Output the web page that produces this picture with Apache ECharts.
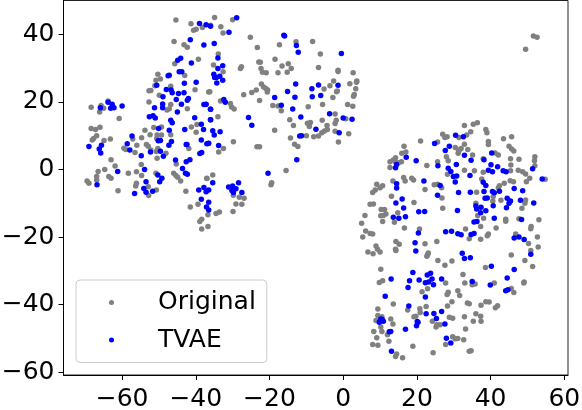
<!DOCTYPE html>
<html><head><meta charset="utf-8">
<style>html,body{margin:0;padding:0;background:#fff}#c{width:582px;height:410px}</style>
<script src="https://cdn.jsdelivr.net/npm/echarts@6/dist/echarts.min.js"></script>
</head><body><div id="c"></div>
<script>
const seriesNames = ['Original', 'TVAE'];
const xTicks = [-60,-40,-20,0,20,40,60];
const yTicks = [-60,-40,-20,0,20,40];
const original = [
[-45.4,44.2],[-41.3,43.1],[-40.6,41.2],[-39.9,41.5],[-38.2,42],[-45.9,37.9],[-43.2,36.9],[-42.3,36.2],[-39.3,32.6],[-45.7,31.3],[-50.3,28.2],[-49.6,26.8],[-50.8,26.4],[-51.1,24.8],[-43,27.8],[-46.8,24.6],[-40.2,23.6],[-52.7,23.3],[-52.2,23.4],[-36.5,22.9],[-49.9,22],[-52.7,20],[-63.8,20.3],[-65.7,18.9],[-65,18.1],[-66.1,17],[-68.4,18.4],[-60.8,15.1],[-46.8,19.2],[-47.2,18],[-47.8,17.6],[-42.3,18],[-68.4,12.1],[-67.2,11.8],[-66,12.5],[-53.8,11.6],[-51.4,12.4],[-49.3,12.6],[-41.2,12.6],[-39.7,13.3],
[-52.4,10.3],[-54.7,9.4],[-50.5,10.2],[-49.3,10.2],[-50.6,9.2],[-49.8,8.6],[-46.8,10.3],[-39.9,11],[-57.1,9],[-66.9,10],[-67.7,9.2],[-68.1,8.7],[-64.9,8.6],[-63.2,9],[-56,7.2],[-53.4,7.4],[-52.9,6.9],[-52.2,5.8],[-59.5,6.3],[-59,5.9],[-56.5,5],[-50.3,6.2],[-50.7,5.3],[-48.1,4.8],[-50.5,3.3],[-41.9,6.2],[-63,2.9],[-61.9,1],[-64.7,0],[-66.5,-0.6],[-66.9,-2.1],[-66.9,-3.1],[-63.6,-2.1],[-63,-2.6],[-69.5,-3.4],[-69,-4.1],[-61.1,-6.3],[-54.8,1.5],[-58.3,-1.1],[-56.1,-0.7],[-54.7,-1.8],[-56.1,-4.1],[-56.3,-4.9],[-50.8,-1.1],[-52.9,-5.1],[-50.7,-6.1],[-52.8,-7.7],[-45.3,1.6],[-46,-1.1],[-45.4,-1.8],[-44.9,-2.3],[-44.1,-3.4],[-42.7,-6.4],[-37,-2.6],[-39.4,-10.3],[-41.5,-11.1],[-36.7,-13.4],[-38.4,-14.7],[-38.9,-15.4],[-36.7,-16.9],[-38.4,-17.6],[-34.5,-13],[-33.6,-12.6],[-29.8,-7.6],[-28.2,-8.2],[-26.9,-8.5],[-29.1,-10.2],[-27.5,-10.3],[-29.9,-12.4],
[-34.9,45],[-30,44.3],[-33.2,42.2],[-32.6,40.4],[-36,42.7],[-25.2,39.1],[-23.3,36.1],[-17.3,36.9],[-12.8,37.8],[-8.3,37.9],[-6.2,34.2],[-18.5,32.6],[-33.9,34.2],[-22.9,31.8],[-22.5,31.7],[-22.3,29.9],[-21.9,28.8],[-20.9,28.6],[-27.9,29.9],[-27.6,30.4],[-35.2,30.9],[-32.6,28.9],[-16.6,30.6],[-14.9,31.3],[-14.1,29.9],[-17.7,28.6],[-15.2,28.8],[-6.7,30.2],[-1.4,29.4],[-1.4,29],[2.7,28.6],[-22.2,25.3],[-21.6,24.4],[-21,24],[-20.5,23.5],[-20.6,22.9],[-23.6,23.5],[-24.8,22.8],[-27,22.1],[-22.7,20.4],[-36.2,23],[-2.6,26.2],[-3.6,24.8],[-5.2,23.8],[-1.6,23.2],[-1.8,23],[-2.8,21.3],[1.8,25.4],[3.7,26.2],[3.6,25.8],[3.4,23.9],[3,22.2],[2.8,21.7],[-33.3,20.3],[-30.6,19.5],[-30.3,18.5],[-29.6,17.9],[-19.1,18.9],[-17.7,18.8],[-16.8,17.4],[-9.5,18.6],[-5.6,19.2],[1.2,19.2],[2.6,18.7],[-34,15.6],[-14.5,14.7],[-13.5,13],[-9.7,13.7],[-8.9,13.9],[-9.2,12.7],[-5.7,14.6],[-2.2,16.4],[-1.9,14.6],[-2.2,13.6],[0.7,15],[-4.4,13],[-4.3,11.8],[-5.1,11.4],[-5.8,10.9],[-6.7,9.9],[-8,9.7],[-10,10],[-2.2,11.3],[1.5,10.6],[-1.3,8.1],[-18.6,11.6],[-14.3,9.3],[-13.2,7.5],[-12.3,6.8],[-29.8,8.2],[-23.4,6.7],[-22.7,6.7],[-32.5,6.2],[-33.8,5.2],[-15.5,-0.3],[-19.4,-3.9],[-19.6,-4.5],[-35.4,-1.6],[-37,-2.7],
[21,8.4],[16.5,6.9],[27,10.4],[27.6,9.5],[28.2,9.7],[25.6,8.1],[15.9,4.8],[17,5.2],[14.2,3.5],[13.6,2.8],[12.7,2.3],[14.1,2.3],[15,2],[15.8,2.3],[12.7,0.6],[22.7,1.2],[25.6,2.3],[28,3.8],[28.5,2.6],[31.3,5.7],[30.4,6.5],[28.3,-1.4],[13.5,-3.4],[16.4,-2.4],[16.8,-3.4],[18.6,-2.6],[19.1,-3.1],[9.1,-4.4],[10.7,-4.8],[10,-5.4],[8.7,-6.1],[8,-6.8],[22.2,-5.9],[24.7,-4.5],[25.6,-4.4],[26.7,-5.4],[13.1,-7.9],[26.8,-8.4],[19.2,-9.8],[27,-11.5],[7.3,-10.3],[8.2,-10.2],[10.3,-11.8],[11.2,-11.8],[11.6,-13.2],[10.2,-13.7],[10.9,-13.6],[14.8,-12.8],[5.9,-13.6],[5,-15.9],[10.7,-15.4],[13.9,-15.6],[6.1,-18.2],[7.3,-18.9],[8,-19.1],[5.3,-20],[16.6,-17.3],[20.7,-17.6],[14.3,-21.3],[15.2,-22.1],[22.2,-22],[25.4,-21.3],[8.9,-22.6],[9.3,-23.6],[14.2,-23.6],
[32.9,13],[35.3,13.4],[36.4,13.8],[34.6,11.2],[33.5,10.2],[31.4,9.5],[38.7,11.8],[39,10.9],[45.7,9.7],[43.5,9.1],[39.4,8.3],[39.4,7.4],[32.9,7.5],[32,6.2],[33.8,5.9],[31.2,4.8],[31.4,5.5],[45,6.9],[45.7,6.1],[46.3,5.5],[41.2,4.9],[42.1,4.3],[35.1,4.3],[38,3.2],[45.4,3.2],[47.7,3],[45.5,1.3],[52,3.8],[51.9,2.6],[52,1.1],[32.9,-0.2],[35.6,-0.4],[38,-0.8],[45.4,-0.4],[47.5,-0.2],[48.7,-0.7],[49.5,-1.3],[37.6,-2.8],[50.6,-2.6],[49.7,-3.6],[54.8,-2.9],[43.7,-4.1],[42.4,-4.8],[42.1,-5.4],[45.3,-3.3],[46.2,-3.6],[36.2,-6.7],[40.7,-8],[40.6,-9.3],[42.8,-9.1],[36,-10],[49.5,-9],[49.3,-10],[48.5,-11.5],[36.5,-13.6],[38.1,-14.4],[44.1,-14.7],[44.1,-15.3],[47.7,-14.6],[53.1,-14.9],[37.3,-16.9],[41.5,-17.3],[33.2,-17.6],[51,-16.9],[50.9,-17.5],[39.4,-19.1],[39.1,-19.6],[34.2,-20.5],[37.3,-20.6],[46.8,-19.1],[52.7,-20],[50.3,-21.9],[52.9,-22.9],
[6.7,-24.4],[8.1,-24.9],[10,-24.4],[14.3,-24],[23.1,-24.7],[22.7,-25.7],[22.9,-25.2],[25.7,-26.9],[27.6,-28.3],[29.5,-27.1],[45.6,-25.3],[49.3,-26.9],[51.4,-28.7],[38.6,-29],[50.9,-24],[10.2,-29.5],[9.8,-33.4],[10.7,-32.9],[32.5,-31.1],[33,-33.6],[35.8,-33.9],[35,-34.1],[27.8,-33.6],[41,-33.6],[49.1,-33.3],[49,-33.6],[45.6,-35.2],[46.3,-36.4],[22.9,-35.3],[21.4,-36.2],[31.1,-35.9],[28.5,-36.3],[28.2,-37],[31.6,-37.3],[13.6,-39.8],[29.5,-39.1],[28.3,-40.4],[33.7,-39.5],[34.2,-39.7],[37.4,-40.2],[38.7,-39.1],[39.6,-39.2],[41.9,-40.3],[41.3,-40.9],[9.4,-41.3],[17.5,-41.6],[20.8,-41.2],[22.5,-40.5],[20.9,-42.3],[19.7,-43.4],[19.2,-43.6],[9.4,-43.2],[8.9,-44.7],[10.5,-43.6],[12.9,-44.2],[13.5,-45.7],[10.2,-46.6],[10.5,-47.9],[36,-42.7],[37.3,-43.4],[32.9,-43.6],[28.8,-43.7],[29.7,-44],[35.3,-44.9],[37.4,-44.9],[24.2,-44.9],[25.4,-45.9],[25.2,-46.6],[26.3,-45.9],[33.2,-47.2],[8.3,-47.9],[12,-48.9],[9.1,-49.8],[12.4,-50.8],[8,-51.8],[9.4,-52],[29.7,-49.5],[30.4,-50.1],[31.1,-50],[32.7,-50.4],[27.8,-51.8],[18.9,-52.3],[14.5,-54.6],[14.2,-55.3],[16.1,-55.7],[24.4,-54.2],[34.2,-53.8],[34.7,-53.6],
[51.6,39.5],[52.6,39.1],[49.5,35.6]
];
const tvae = [
[-39,43.2],[-37.2,42.8],[-36,42.4],[-41.5,38.4],[-37.8,36.8],[-44.1,32.9],[-44.9,32.3],[-41.2,31.5],[-44.5,28.9],[-43.8,28.9],[-47.2,27.9],[-47.5,27.7],[-43.1,25.5],[-39.9,25.8],[-50.6,24.9],[-48,23.7],[-46.7,23.5],[-46.4,22.7],[-44.7,22.5],[-43.2,22.7],[-48.9,21.5],[-45.3,20.7],[-42,21],[-42.3,20.5],[-63.8,19.9],[-62.7,19.3],[-63.1,18.1],[-62.2,18.3],[-65.9,18.3],[-60,18.8],[-49,19.4],[-49,18.3],[-51.2,18.3],[-43.9,19.3],[-45,17],[-37.8,19.2],[-37.3,19.2],[-36,17.8],[-52.6,15.6],[-51.6,15.9],[-51,15.2],[-40.3,15.3],[-36,14.7],[-46.8,14.6],[-46.4,13.8],[-38.5,13.4],[-50.1,12.1],[-47.2,11.6],[-43,11.8],[-37.9,11.8],
[-57.3,9.9],[-58.6,7.6],[-57.9,5.8],[-50.2,8.5],[-49.6,8.6],[-46.6,8.3],[-47.3,7.2],[-42.6,7.4],[-42.4,7.4],[-38.5,8.7],[-36.6,7.7],[-38.9,4.7],[-38.4,5],[-69,6.8],[-65.6,7.2],[-66.2,6.1],[-65.8,4.9],[-54.8,4.1],[-52.3,5.2],[-49.6,5.4],[-48.8,3.9],[-45.5,2.8],[-42.6,2.3],[-41.6,2.9],[-43.6,0.3],[-42.8,-1.1],[-42.3,-1.4],[-61.2,-0.6],[-66.8,-4.5],[-53.9,0],[-50.3,-1.6],[-49.2,-2.6],[-49.8,-3.6],[-53.5,-3.6],[-54.1,-5.6],[-53.5,-6.7],[-51.7,-6.4],[-56.6,-7.1],[-39.2,-6.1],[-37.8,-5.3],[-37.2,-6.6],[-36.5,-6.1],[-38.5,-8.8],[-36.5,-9.7],[-37.1,-11.1],[-36.5,-12],
[-28.9,44.9],[-31,40.6],[-16.1,39.7],[-15.9,39.5],[-12.7,36.7],[-12.2,34.7],[-0.5,34.3],[-35,37.3],[-34,33],[-32.7,30.7],[-34,29.9],[-35.1,28.2],[-34.9,27.2],[-34.4,27.2],[-33.5,27.6],[-32.7,26.4],[-34.3,25.6],[-12.9,25.3],[-15.1,23.1],[-18.6,21.3],[-13.1,21.4],[-6.7,25],[-8.5,23.9],[-1.4,24.9],[-8.4,21.5],[-6.1,21.9],[-32.4,20.7],[-32,19.9],[-37.2,19.3],[-36,17.8],[-16.8,19],[-13.7,17.9],[-36,14.7],[-25.7,15.4],[-24.8,13.1],[-11.5,15.5],[-3.7,16.5],[0,15.2],[2.4,14.9],[-7.4,11.9],[-1.1,10.9],[-35.4,11.5],[-35,10.2],[-33.4,11.2],[-11.8,9.9],[-11.3,10],[-36.5,7.8],[-37,7.6],[-33.8,7.1],[-12.6,2.9],[-20.4,-1.1],[-35.4,-3.9],[-28.4,-3.9],[-31.1,-5.2],[-30,-4.9],[-29.1,-5.7],[-30.2,-6.2],[-29.8,-6.8],[-27.5,-6.8],
[24.8,7.7],[28.8,6.9],[30.5,10.1],[27.7,5.6],[17.1,3.6],[19.8,2.6],[14.5,1.5],[14.2,0.5],[25.7,1.1],[30.7,1.5],[28.5,0.4],[29.2,-0.6],[29.9,-2.1],[30.8,-1.9],[30.4,-3.7],[21.9,-3.4],[26.3,-4.7],[14.5,-4.2],[14.5,-5.5],[31.3,-6.8],[16,-8.7],[25.6,-7.6],[14.3,-9.9],[16.4,-11.4],[20.5,-12.5],[22.1,-12.4],[31,-12.1],[13.6,-14.1],[15.1,-14.4],[16.9,-14],[20.4,-18.8],[27.8,-18.4],[29.4,-18.3],[31.1,-19],[19.5,-21.7],[19.7,-24.1],
[32.6,9.7],[40.3,4.9],[32.9,4.2],[34.7,2.7],[38.2,2.9],[40.1,1.4],[41.9,0.8],[39.4,-0.2],[40.5,-0.7],[43.4,-0.4],[44.2,-0.7],[51.4,0.2],[54,-2.8],[34.4,-1.8],[38,-3.8],[38.7,-4.7],[46.4,-5.6],[48.7,-6.3],[34.5,-6.7],[38.2,-6.5],[40.5,-6.5],[41,-6.9],[42.4,-6.4],[38.5,-8.5],[39.1,-8.4],[48.1,-9.1],[51.7,-9.9],[44.5,-8.5],[45.4,-9.3],[45,-10],[44.3,-11.3],[40.7,-10.7],[36,-10.8],[36.2,-11.7],[37.4,-11.2],[38.7,-12.2],[37.3,-12.8],[41,-14.4],[48.4,-14.8],[35.5,-15.5],[36.3,-15.4],[32,-19.3],[34.7,-19.2],[35.5,-18.9],[46.4,-20.3],[47.7,-20],[49.1,-20.7],
[32.3,-24.8],[32.9,-26.3],[34.5,-26.1],[50.9,-25.1],[40.2,-28.6],[46.4,-29.6],[18.9,-30.5],[22.8,-31.2],[23.7,-30.7],[24.1,-32.4],[23.2,-33.3],[22.3,-33.5],[24.5,-34.1],[20.6,-32.7],[18,-32.9],[17.6,-34.9],[13,-32.4],[26.7,-32.4],[35,-33.1],[39.9,-34.2],[44.5,-32.1],[44.1,-35.9],[44.7,-35.6],[11.4,-37.5],[22.3,-37.7],[17.8,-40.4],[22.5,-42.7],[24.6,-42.6],[26.7,-42],[25.3,-44.1],[27.6,-45.7],[10.2,-44.2],[10,-44.9],[10.9,-44.9],[9.8,-45.2],[10.6,-44.4],[20.1,-45],[20.3,-45.2],[19.9,-46.2],[16.9,-47.3],[12.9,-47.9],[12.5,-48],[28,-49.9],[29.2,-51.3],[13.1,-53.8]
];
const FONT = '"DejaVu Sans"';
const fmt = v => String(v).replace('-', '\u2212');
const axisCommon = {
  type: 'value', scale: true, splitLine: {show: false},
  axisLine: {show: true, onZero: false, lineStyle: {color: '#000', width: 1}},
  axisTick: {length: 5, lineStyle: {color: '#000', width: 1}}
};
function axis(min, max, ticks, label) {
  return Object.assign({}, axisCommon, {
    min, max,
    axisLabel: Object.assign({color: '#000', fontFamily: FONT, fontSize: 25, formatter: fmt, hideOverlap: false, showMinLabel: true, showMaxLabel: true, customValues: ticks}, label),
    axisTick: Object.assign({}, axisCommon.axisTick, {customValues: ticks})
  });
}
const chart = echarts.init(document.getElementById('c'), null, {renderer: 'canvas'});
chart.setOption({
  animation: false,
  backgroundColor: '#fff',
  grid: {left: 63.5, right: 14, top: 0.5, bottom: 35, show: true, borderColor: '#222', borderWidth: 1, containLabel: false, outerBoundsMode: 'none'},
  xAxis: axis(-75.9, 61, xTicks, {margin: 12}),
  yAxis: axis(-60.8, 50, yTicks, {margin: 9, padding: [6, 0, 0, 0]}),
  legend: {
    left: 76, top: 280, orient: 'vertical', padding: [10, 11, 10, 33], itemGap: 12.5,
    itemWidth: 5, itemHeight: 5, icon: 'circle',
    backgroundColor: 'rgba(255,255,255,0.8)', borderColor: '#ccc', borderWidth: 1, borderRadius: 4,
    textStyle: {color: '#000', fontFamily: FONT, fontSize: 25, padding: [0, 0, 0, 39]},
    data: seriesNames
  },
  series: [
    {name: seriesNames[0], type: 'scatter', data: original, symbolSize: 5.5, itemStyle: {color: '#808080', opacity: 1}, z: 2},
    {name: seriesNames[1], type: 'scatter', data: tvae, symbolSize: 5.5, itemStyle: {color: '#0000ff', opacity: 1}, z: 3}
  ]
});
</script></body></html>
